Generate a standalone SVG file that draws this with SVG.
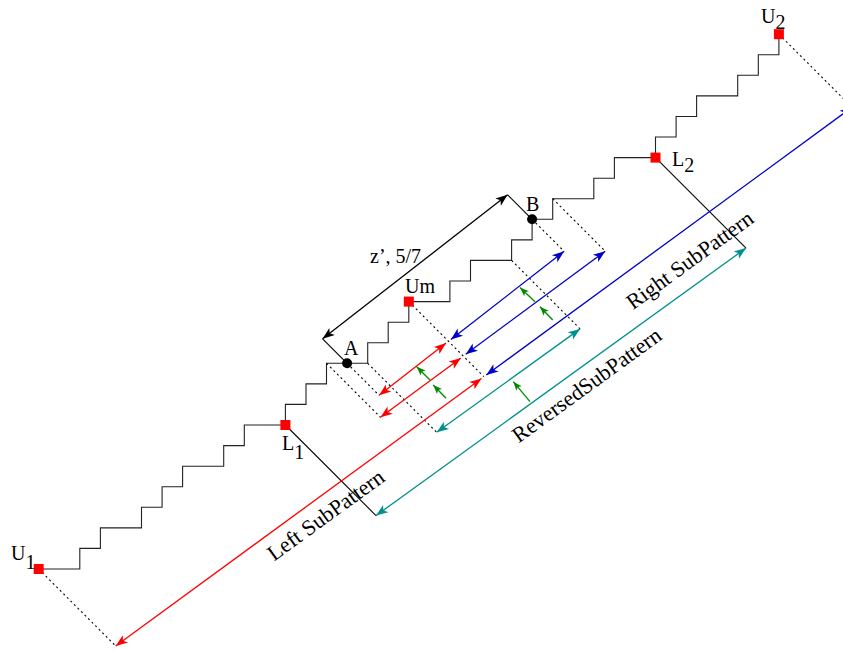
<svg xmlns="http://www.w3.org/2000/svg" width="843" height="651" viewBox="0 0 843 651">
<style>
.stair{fill:none;stroke:#222;stroke-width:1.1}
.dot{fill:none;stroke:#000;stroke-width:1.1;stroke-dasharray:2 3}
.solid{fill:none;stroke:#000;stroke-width:1.1}
.red{fill:none;stroke:#ff0000;stroke-width:1.3;marker-start:url(#mr);marker-end:url(#mr)}
.blue{fill:none;stroke:#0000c8;stroke-width:1.3;marker-start:url(#mb);marker-end:url(#mb)}
.teal{fill:none;stroke:#009090;stroke-width:1.3;marker-start:url(#mt);marker-end:url(#mt)}
.green{fill:none;stroke:#008a00;stroke-width:1.3;marker-end:url(#mg)}
.dim{fill:none;stroke:#000;stroke-width:1.3;marker-start:url(#mk);marker-end:url(#mk)}
.sq{fill:#ff0000}
.pt{fill:#000}
text{font-family:"Liberation Serif","Times New Roman",serif;fill:#000}
.lbl{font-size:20px}
.rot{font-size:22px}
</style>
<defs>
<marker id="mr" viewBox="-13 -6 14 12" refX="0" refY="0" markerWidth="14" markerHeight="12" markerUnits="userSpaceOnUse" orient="auto-start-reverse"><path d="M0,0 L-12,-4.5 L-9,0 L-12,4.5 Z" fill="#ff0000"/></marker>
<marker id="mb" viewBox="-13 -6 14 12" refX="0" refY="0" markerWidth="14" markerHeight="12" markerUnits="userSpaceOnUse" orient="auto-start-reverse"><path d="M0,0 L-12,-4.5 L-9,0 L-12,4.5 Z" fill="#0000c8"/></marker>
<marker id="mt" viewBox="-13 -6 14 12" refX="0" refY="0" markerWidth="14" markerHeight="12" markerUnits="userSpaceOnUse" orient="auto-start-reverse"><path d="M0,0 L-12,-4.5 L-9,0 L-12,4.5 Z" fill="#009090"/></marker>
<marker id="mk" viewBox="-13 -6 14 12" refX="0" refY="0" markerWidth="14" markerHeight="12" markerUnits="userSpaceOnUse" orient="auto-start-reverse"><path d="M0,0 L-12,-4.5 L-9,0 L-12,4.5 Z" fill="#000"/></marker>
<marker id="mg" viewBox="-11 -5 12 10" refX="0" refY="0" markerWidth="12" markerHeight="10" markerUnits="userSpaceOnUse" orient="auto"><path d="M0,0 L-9,-3.5 L-7,0 L-9,3.5 Z" fill="#008a00"/></marker>
</defs>

<g id="connectors">
  <path class="stair" d="M38.7,569 H79.8 V548.4 H100.4 V527.9 H141.5 V507.3 H162.1 V486.7 H182.6 V466.2 H223.7 V445.6 H244.3 V425 H285.4"/>
  <path class="stair" d="M285.4,425 V404.4 H306 V383.9 H326.5 V363.3 H347.1"/>
  <path class="stair" d="M347.1,363.3 H367.7 V342.7 H388.2 V322.2 H408.8 V301.6"/>
  <path class="stair" d="M408.8,301.6 H449.9 V281 H470.5 V260.4 H511.6 V239.9 H532.1 V219.3"/>
  <path class="stair" d="M532.1,219.3 H552.7 V198.7 H593.8 V178.2 H614.4 V157.6 H655.5"/>
  <path class="stair" d="M655.5,157.6 V137 H676.1 V116.5 H696.6 V95.9 H737.7 V75.3 H758.3 V54.8 H778.9 V34.2"/>

  <line class="dot" x1="38.7" y1="569" x2="115.7" y2="646"/>
  <line class="dot" x1="778.9" y1="34.2" x2="852" y2="107.3"/>
  <line class="dot" x1="326.5" y1="363.3" x2="380.5" y2="417.3"/>
  <line class="dot" x1="347.1" y1="363.3" x2="379.1" y2="395.3"/>
  <line class="dot" x1="367.7" y1="363.3" x2="436.7" y2="432.3"/>
  <line class="dot" x1="408.8" y1="301.6" x2="483.8" y2="376.6"/>
  <line class="dot" x1="511.6" y1="260.4" x2="580.1" y2="328.9"/>
  <line class="dot" x1="532.1" y1="219.3" x2="564.1" y2="251.3"/>
  <line class="dot" x1="552.7" y1="198.7" x2="605.2" y2="251.2"/>
  <line class="solid" x1="285.4" y1="425" x2="376" y2="515.6"/>
  <line class="solid" x1="655.5" y1="157.6" x2="746" y2="248.1"/>
  <line class="solid" x1="347.1" y1="363.3" x2="322.6" y2="338.8"/>
  <line class="solid" x1="532.1" y1="219.3" x2="507.6" y2="194.8"/>

  <line class="dim" x1="322.6" y1="338.8" x2="507.6" y2="194.8"/>

  <line class="red" x1="115.7" y1="646" x2="481.5" y2="378.5"/>
  <line class="blue" x1="486.3" y1="375" x2="852" y2="107.3"/>
  <line class="red" x1="379.1" y1="395.3" x2="446.1" y2="343.1"/>
  <line class="blue" x1="450.9" y1="339.5" x2="564.1" y2="251.3"/>
  <line class="red" x1="380.5" y1="417.3" x2="460.9" y2="357.9"/>
  <line class="blue" x1="465.7" y1="354.3" x2="605.2" y2="251.2"/>
  <line class="teal" x1="376" y1="515.6" x2="746" y2="248.1"/>
  <line class="teal" x1="436.7" y1="432.3" x2="580.1" y2="328.9"/>

  <line class="green" x1="430" y1="380" x2="416.7" y2="366.7"/>
  <line class="green" x1="446" y1="398.3" x2="433.3" y2="385"/>
  <line class="green" x1="530" y1="401.7" x2="513.3" y2="381.7"/>
  <line class="green" x1="535" y1="301.7" x2="520" y2="287.5"/>
  <line class="green" x1="552.7" y1="320" x2="540" y2="306.7"/>
</g>

<g id="node-U1"><rect class="sq" x="33.7" y="564" width="10" height="10"/><text class="lbl" x="11" y="560">U<tspan dy="9">1</tspan></text></g>
<g id="node-L1"><rect class="sq" x="280.4" y="420" width="10" height="10"/><text class="lbl" x="282" y="450">L<tspan dy="9">1</tspan></text></g>
<g id="node-A"><circle class="pt" cx="347.1" cy="363.3" r="5"/><text class="lbl" x="344" y="355">A</text></g>
<g id="node-Um"><rect class="sq" x="403.8" y="296.6" width="10" height="10"/><text class="lbl" x="405" y="293">Um</text></g>
<g id="node-B"><circle class="pt" cx="532.1" cy="219.3" r="5"/><text class="lbl" x="526" y="211">B</text></g>
<g id="node-L2"><rect class="sq" x="650.5" y="152.6" width="10" height="10"/><text class="lbl" x="672" y="166">L<tspan dy="6">2</tspan></text></g>
<g id="node-U2"><rect class="sq" x="773.9" y="29.2" width="10" height="10"/><text class="lbl" x="761" y="23">U<tspan dy="6">2</tspan></text></g>

<g id="labels">
  <text class="lbl" x="370" y="263" font-size="21">z’, 5/7</text>
  <text class="rot" text-anchor="middle" transform="translate(330,521) rotate(-36)">Left SubPattern</text>
  <text class="rot" text-anchor="middle" transform="translate(694,266) rotate(-36)">Right SubPattern</text>
  <text class="rot" text-anchor="middle" transform="translate(591,391) rotate(-36)">ReversedSubPattern</text>
</g>
</svg>
